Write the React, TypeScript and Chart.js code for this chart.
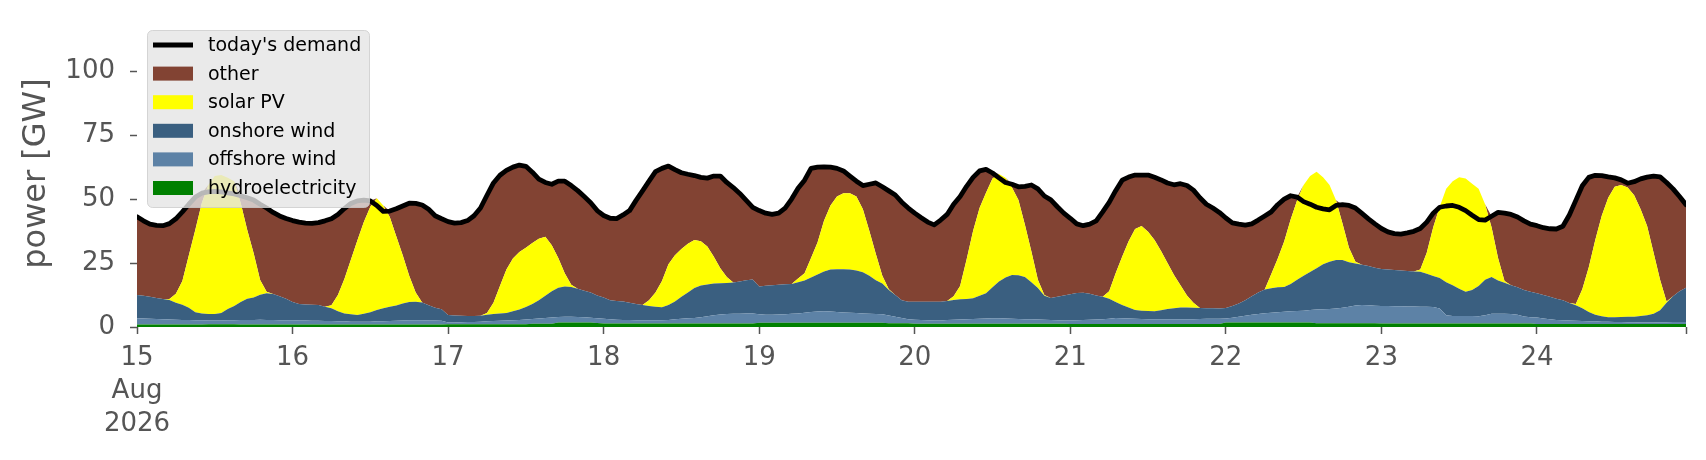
import React, { useEffect, useRef } from "react";
import { Chart, registerables } from "chart.js";

Chart.register(...registerables);

// ---- data: hourly values in GW, 15 Aug 2026 00:00 .. 24 Aug 2026 23:00 ----
const hydro = [
  1.0, 1.0, 1.0, 1.0, 1.0, 1.0, 1.0, 1.0, 1.0, 1.0, 1.0, 1.1, 1.1, 1.1, 1.1, 1.1, 1.0, 1.0, 1.0, 1.0, 1.0, 1.0, 1.0, 1.0,
  1.0, 1.0, 1.0, 1.0, 1.0, 1.0, 1.0, 1.0, 1.0, 1.0, 1.0, 1.0, 1.0, 1.0, 1.0, 1.0, 1.0, 1.0, 1.0, 1.0, 1.0, 1.0, 1.0, 1.0,
  1.1, 1.1, 1.1, 1.1, 1.1, 1.1, 1.1, 1.1, 1.1, 1.1, 1.1, 1.1, 1.1, 1.3, 1.3, 1.3, 1.3, 1.8, 1.8, 1.8, 1.8, 1.8, 1.8, 1.6,
  1.4, 1.4, 1.4, 1.4, 1.4, 1.4, 1.4, 1.4, 1.4, 1.4, 1.4, 1.4, 1.4, 1.4, 1.4, 1.4, 1.4, 1.4, 1.4, 1.4, 1.4, 1.4, 1.4, 1.4,
  1.7, 1.7, 1.7, 1.7, 1.7, 1.7, 1.7, 1.7, 1.7, 1.7, 1.7, 1.7, 1.7, 1.7, 1.7, 1.7, 1.7, 1.7, 1.7, 1.7, 1.5, 1.5, 1.5, 1.5,
  1.3, 1.3, 1.3, 1.3, 1.3, 1.3, 1.3, 1.3, 1.3, 1.3, 1.3, 1.3, 1.3, 1.3, 1.3, 1.3, 1.3, 1.3, 1.3, 1.3, 1.3, 1.3, 1.3, 1.3,
  1.2, 1.2, 1.2, 1.2, 1.2, 1.2, 1.2, 1.2, 1.2, 1.2, 1.2, 1.2, 1.2, 1.2, 1.2, 1.2, 1.2, 1.2, 1.2, 1.2, 1.2, 1.2, 1.2, 1.2,
  1.8, 1.8, 1.8, 1.8, 1.8, 1.8, 1.8, 1.8, 1.8, 1.8, 1.8, 1.8, 1.8, 1.8, 1.5, 1.5, 1.5, 1.5, 1.5, 1.5, 1.5, 1.5, 1.5, 1.5,
  1.4, 1.4, 1.4, 1.4, 1.4, 1.4, 1.4, 1.4, 1.4, 1.4, 1.4, 1.4, 1.4, 1.4, 1.4, 1.4, 1.4, 1.4, 1.4, 1.4, 1.4, 1.4, 1.4, 1.4,
  1.2, 1.2, 1.2, 1.2, 1.2, 1.2, 1.2, 1.2, 1.2, 1.2, 1.2, 1.2, 1.2, 1.2, 1.2, 1.2, 1.2, 1.2, 1.2, 1.2, 1.2, 1.2, 1.2, 1.2,
];

const offshoreWind = [
  2.4, 2.3, 2.2, 2.1, 2.0, 1.9, 1.8, 1.7, 1.7, 1.6, 1.6, 1.4, 1.4, 1.4, 1.5, 1.5, 1.7, 1.7, 1.7, 1.8, 1.7, 1.7, 1.6, 1.6,
  1.6, 1.5, 1.5, 1.4, 1.4, 1.3, 1.3, 1.2, 1.2, 1.1, 1.1, 1.1, 1.1, 1.2, 1.2, 1.3, 1.4, 1.5, 1.6, 1.6, 1.6, 1.5, 1.5, 1.4,
  0.7, 0.7, 0.8, 0.9, 0.9, 1.0, 1.1, 1.2, 1.3, 1.4, 1.5, 1.6, 1.8, 1.8, 2.0, 2.2, 2.4, 2.1, 2.2, 2.2, 2.1, 2.0, 1.8, 1.8,
  1.8, 1.6, 1.4, 1.3, 1.3, 1.2, 1.2, 1.2, 1.2, 1.2, 1.3, 1.6, 1.8, 2.0, 2.1, 2.4, 2.8, 3.2, 3.5, 3.7, 3.8, 3.8, 3.9, 3.9,
  3.3, 3.1, 3.1, 3.2, 3.3, 3.5, 3.6, 3.9, 4.2, 4.4, 4.5, 4.4, 4.2, 4.0, 3.9, 3.8, 3.6, 3.5, 3.4, 3.3, 3.0, 2.5, 2.0, 1.5,
  1.5, 1.4, 1.3, 1.2, 1.2, 1.4, 1.5, 1.6, 1.7, 1.8, 1.9, 2.0, 2.1, 2.1, 2.0, 1.9, 1.8, 1.7, 1.7, 1.6, 1.5, 1.4, 1.3, 1.2,
  1.3, 1.4, 1.5, 1.6, 1.7, 1.8, 2.0, 2.3, 2.2, 2.1, 2.0, 1.9, 1.8, 1.8, 1.8, 1.8, 1.8, 1.8, 1.8, 1.8, 1.9, 2.0, 2.0, 2.0,
  1.5, 1.8, 2.2, 2.6, 3.0, 3.3, 3.6, 3.8, 4.0, 4.2, 4.4, 4.5, 4.6, 4.8, 5.3, 5.4, 5.5, 5.7, 6.0, 6.4, 6.9, 7.1, 7.0, 6.8,
  6.8, 6.8, 6.7, 6.7, 6.6, 6.6, 6.5, 6.5, 6.4, 5.8, 3.2, 2.9, 2.9, 2.9, 2.9, 2.8, 3.2, 3.8, 3.8, 3.8, 3.7, 3.4, 2.7, 2.4,
  2.5, 2.1, 1.8, 1.5, 1.4, 1.3, 1.2, 1.1, 1.0, 1.0, 0.9, 0.9, 0.8, 0.8, 0.7, 0.7, 0.6, 0.6, 0.6, 0.7, 0.7, 0.8, 0.8, 0.8,
];

const onshoreWind = [
  9.1, 8.9, 8.6, 8.2, 7.9, 7.7, 6.7, 6.0, 4.8, 3.2, 2.7, 2.6, 2.6, 3.0, 4.4, 5.6, 7.1, 8.3, 8.8, 9.8, 10.5, 10.2, 9.4, 8.4,
  7.2, 6.5, 6.3, 6.3, 6.2, 5.6, 5.0, 4.0, 3.1, 2.9, 2.6, 3.1, 3.7, 4.4, 5.1, 5.6, 6.0, 6.7, 7.2, 7.3, 7.0, 6.0, 5.0, 4.5,
  2.9, 2.7, 2.5, 2.3, 2.3, 2.3, 2.6, 2.8, 2.9, 3.0, 3.6, 4.1, 4.9, 5.9, 7.2, 8.7, 10.3, 11.4, 11.8, 11.6, 11.1, 10.4, 9.9, 8.9,
  8.3, 7.5, 7.4, 7.3, 6.8, 6.4, 6.0, 5.6, 5.3, 5.1, 5.9, 7.0, 8.6, 10.1, 11.7, 12.4, 12.4, 12.4, 12.2, 12.1, 12.2, 12.6, 13.0, 13.3,
  10.8, 11.3, 11.5, 11.6, 11.7, 11.6, 12.2, 12.6, 13.4, 14.4, 15.5, 16.4, 16.7, 16.9, 16.9, 16.6, 16.1, 14.8, 13.2, 12.0, 10.0, 8.5, 7.0, 6.9,
  7.1, 7.2, 7.3, 7.4, 7.4, 7.5, 7.8, 7.9, 7.9, 8.1, 9.0, 9.9, 12.1, 14.4, 16.0, 17.1, 17.1, 16.5, 14.5, 12.3, 9.4, 8.6, 9.2, 9.8,
  10.3, 10.7, 10.7, 10.2, 9.4, 8.8, 7.8, 6.3, 5.2, 4.3, 3.4, 3.3, 3.3, 3.2, 3.5, 4.0, 4.3, 4.6, 4.6, 4.5, 4.3, 4.1, 4.1, 4.0,
  4.1, 4.6, 5.2, 6.1, 7.2, 8.4, 9.3, 9.5, 9.7, 9.6, 10.6, 12.2, 13.6, 14.9, 16.2, 17.6, 18.5, 19.0, 18.7, 17.4, 16.4, 15.7, 15.3, 14.9,
  14.5, 14.3, 14.2, 14.0, 13.9, 13.7, 13.7, 12.9, 12.1, 12.0, 12.9, 12.0, 10.7, 9.5, 10.2, 11.8, 13.9, 14.3, 13.0, 12.1, 11.2, 10.7, 10.4, 10.0,
  9.5, 9.2, 8.8, 8.3, 7.9, 6.9, 6.1, 5.0, 3.7, 2.6, 2.1, 1.7, 1.8, 1.9, 2.1, 2.1, 2.5, 2.8, 3.4, 4.6, 7.6, 10.0, 12.0, 13.3,
];

const solarPV = [
  0, 0, 0, 0, 0, 0.3, 3.5, 9.3, 20.5, 32.2, 43.2, 50.4, 53.9, 53.9, 51.3, 48.8, 38.7, 27.0, 17.3, 5.8, 0.6, 0, 0, 0,
  0, 0, 0, 0, 0, 0, 1.2, 6.3, 13.5, 21.3, 29.1, 35.8, 41.2, 43.7, 40.2, 35.1, 27.1, 18.8, 10.2, 3.6, 0, 0, 0, 0,
  0, 0, 0, 0, 0, 0, 0.7, 4.4, 10.7, 17.0, 20.6, 22.5, 23.2, 23.8, 24.0, 23.1, 18.0, 11.7, 5.2, 0.9, 0, 0, 0, 0,
  0, 0, 0, 0, 0, 0, 0, 2.3, 5.6, 10.3, 15.9, 18.0, 18.7, 19.0, 18.8, 17.3, 14.9, 10.5, 5.9, 2.3, 0, 0, 0, 0,
  0, 0, 0, 0, 0, 0, 1.5, 2.8, 7.7, 12.5, 19.8, 25.0, 28.4, 29.7, 29.8, 28.9, 24.6, 17.5, 10.2, 3.0, 0.3, 0, 0, 0,
  0, 0, 0, 0, 0, 0, 1.4, 5.2, 15.5, 26.3, 34.3, 39.3, 42.5, 42.0, 39.0, 34.2, 29.4, 20.5, 12.0, 3.3, 0.3, 0, 0, 0,
  0, 0, 0, 0, 0, 0, 3.0, 11.2, 18.9, 25.9, 31.7, 33.1, 30.9, 27.8, 23.2, 18.0, 13.0, 8.7, 4.7, 2.0, 0, 0, 0, 0,
  0, 0, 0, 0, 0, 0, 0, 5.5, 11.2, 17.8, 25.2, 31.0, 35.5, 37.5, 37.7, 34.0, 30.0, 23.3, 14.3, 5.7, 0.7, 0, 0, 0,
  0, 0, 0, 0, 0, 0, 0.9, 8.2, 19.1, 27.8, 36.5, 40.7, 43.5, 44.2, 41.5, 38.0, 29.5, 19.5, 8.8, 0.7, 0, 0, 0, 0,
  0, 0, 0, 0, 0, 0, 0.5, 7.5, 17.5, 29.2, 39.3, 46.7, 51.0, 51.6, 50.5, 47.5, 41.7, 34.9, 23.8, 12.0, 0.5, 0, 0, 0,
];

const other = [
  30.6, 29.3, 28.4, 28.4, 28.7, 29.5, 29.3, 27.0, 20.0, 12.8, 3.8, 0, 0, 0, 0, 0, 2.8, 12.5, 20.8, 29.6, 32.7, 31.9, 31.4, 31.4,
  31.8, 32.0, 31.8, 31.8, 32.2, 33.6, 33.8, 31.5, 27.5, 22.0, 15.5, 8.6, 2.3, 0, 0, 2.3, 10.7, 19.3, 28.4, 34.8, 38.1, 37.5, 36.0, 35.4,
  36.5, 36.1, 36.4, 37.3, 39.2, 42.1, 46.0, 46.8, 43.3, 38.7, 35.7, 34.0, 31.8, 27.7, 23.3, 21.2, 23.8, 30.0, 36.0, 38.8, 38.3, 36.8, 35.1, 33.2,
  32.1, 32.0, 32.2, 33.8, 36.0, 40.5, 44.6, 46.5, 47.2, 44.0, 38.4, 33.5, 29.8, 27.2, 25.2, 25.0, 26.7, 31.5, 36.0, 37.0, 37.1, 34.4, 31.2, 28.2,
  29.7, 28.4, 27.7, 28.0, 29.8, 33.2, 35.2, 36.4, 35.0, 29.5, 21.1, 15.0, 11.0, 8.7, 6.7, 6.0, 9.3, 18.3, 27.8, 34.8, 38.4, 39.1, 38.3, 36.6,
  34.6, 32.8, 31.1, 30.0, 31.9, 33.8, 36.0, 35.0, 28.6, 21.0, 14.5, 9.1, 2.2, 0, 0, 1.3, 5.2, 15.0, 26.0, 35.5, 38.7, 38.4, 35.2, 32.2,
  29.7, 27.0, 26.2, 27.2, 29.2, 33.2, 34.7, 32.3, 29.9, 25.1, 21.1, 19.9, 22.2, 24.5, 27.8, 31.3, 35.3, 39.7, 43.0, 44.0, 43.1, 40.7, 39.2, 37.6,
  35.2, 32.5, 31.0, 29.3, 28.3, 28.3, 28.7, 24.4, 21.3, 16.6, 9.3, 1.3, 0, 0, 0, 0, 0, 0, 7.3, 16.5, 21.0, 20.1, 18.5, 17.1,
  15.8, 14.7, 14.2, 14.2, 14.9, 15.7, 16.0, 12.0, 5.5, 0, 0, 0, 0, 0, 0, 0, 0, 4.3, 17.8, 26.5, 27.7, 27.5, 27.0, 26.4,
  26.4, 26.3, 26.6, 27.3, 28.9, 34.4, 40.5, 40.4, 35.1, 25.3, 15.7, 8.2, 3.5, 2.0, 1.7, 5.3, 11.9, 19.1, 30.0, 40.2, 46.5, 42.0, 37.0, 32.5,
];

const demand = [
  43.1, 41.5, 40.2, 39.7, 39.6, 40.4, 42.3, 45.0, 48.0, 50.8, 52.3, 52.8, 53.0, 52.8, 52.4, 52.0, 51.3, 50.5, 49.6, 48.0, 46.5, 44.8, 43.4, 42.4,
  41.6, 41.0, 40.6, 40.5, 40.8, 41.5, 42.3, 44.0, 46.3, 48.3, 49.3, 49.6, 49.3, 47.5, 45.2, 45.3, 46.2, 47.3, 48.4, 48.3, 47.7, 46.0, 43.5, 42.3,
  41.2, 40.6, 40.8, 41.6, 43.5, 46.5, 51.5, 56.3, 59.3, 61.2, 62.5, 63.3, 62.8, 60.5, 57.8, 56.5, 55.8, 57.0, 57.0, 55.3, 53.3, 51.0, 48.6, 45.5,
  43.6, 42.5, 42.4, 43.8, 45.5, 49.5, 53.2, 57.0, 60.7, 62.0, 62.9, 61.5, 60.3, 59.7, 59.2, 58.5, 58.2, 59.0, 59.0, 56.5, 54.5, 52.2, 49.5, 46.8,
  45.5, 44.5, 44.0, 44.5, 46.5, 50.0, 54.2, 57.4, 62.0, 62.5, 62.6, 62.5, 62.0, 61.0, 59.0, 57.0, 55.3, 55.8, 56.3, 54.8, 53.2, 51.6, 48.8, 46.5,
  44.5, 42.7, 41.0, 39.9, 41.8, 44.0, 48.0, 51.0, 55.0, 58.5, 61.0, 61.6, 60.2, 58.3, 56.5, 55.8, 54.8, 55.0, 55.5, 54.0, 51.2, 49.7, 47.0, 44.5,
  42.5, 40.3, 39.6, 40.2, 41.5, 45.0, 48.7, 53.3, 57.4, 58.6, 59.4, 59.4, 59.4, 58.5, 57.5, 56.3, 55.6, 56.0, 55.3, 53.5, 50.5, 48.0, 46.5, 44.8,
  42.6, 40.7, 40.2, 39.8, 40.3, 41.8, 43.4, 45.0, 47.8, 50.0, 51.3, 50.8, 49.0, 48.0, 46.8, 46.2, 45.8, 47.5, 47.8, 47.5, 46.5, 44.4, 42.3, 40.3,
  38.5, 37.2, 36.5, 36.3, 36.8, 37.4, 38.5, 41.0, 44.5, 46.8, 47.3, 47.5, 46.8, 45.5, 43.7, 42.0, 41.8, 43.3, 44.8, 44.5, 44.0, 43.0, 41.5, 40.2,
  39.6, 38.8, 38.4, 38.3, 39.4, 43.8, 49.5, 55.2, 58.5, 59.3, 59.2, 58.7, 58.3, 57.5, 56.2, 56.8, 57.9, 58.6, 59.0, 58.7, 56.5, 54.0, 51.0, 47.8,
];

// x positions in hours since 15 Aug 2026 00:00
const dayTickHours = [0, 24, 48, 72, 96, 120, 144, 168, 192, 216];
const dayTickLabels: (string | string[])[] = [["15", "Aug", "2026"], "16", "17", "18", "19", "20", "21", "22", "23", "24"];
const lastHour = 239;
const yTickValues = [0, 25, 50, 75, 100];
const yMax = 120;

const FONT = "'DejaVu Sans', 'Liberation Sans', sans-serif";
const TICK_COLOR = "#555555";

const COLORS = {
  demand: "#000000",
  other: "#824333",
  solar: "#ffff00",
  onshore: "#3a5f80",
  offshore: "#5d82a6",
  hydro: "#008000",
};

const legendOrder = [5, 4, 3, 2, 1, 0];

const mplLegend = {
  id: "mplLegend",
  afterDraw(chart: any) {
    const { ctx, chartArea } = chart;
    const x0 = chartArea.left + 10;
    const y0 = chartArea.top + 10;
    const w = 222;
    const h = 177;
    ctx.save();
    ctx.globalAlpha = 0.8;
    ctx.beginPath();
    if (ctx.roundRect) ctx.roundRect(x0 + 0.5, y0 + 0.5, w, h, 5);
    else ctx.rect(x0 + 0.5, y0 + 0.5, w, h);
    ctx.fillStyle = "#e5e5e5";
    ctx.fill();
    ctx.lineWidth = 1;
    ctx.strokeStyle = "#cccccc";
    ctx.stroke();
    ctx.globalAlpha = 1;
    ctx.font = `19px ${FONT}`;
    ctx.textBaseline = "middle";
    ctx.textAlign = "left";
    const rowH = 28.6;
    legendOrder.forEach((di, i) => {
      const ds = chart.data.datasets[di];
      const cy = y0 + 15 + i * rowH;
      const hx = x0 + 6;
      if (ds.fill === false) {
        ctx.strokeStyle = ds.borderColor;
        ctx.lineWidth = 4.8;
        ctx.lineCap = "butt";
        ctx.beginPath();
        ctx.moveTo(hx, cy);
        ctx.lineTo(hx + 40, cy);
        ctx.stroke();
      } else {
        ctx.fillStyle = ds.backgroundColor;
        ctx.fillRect(hx, cy - 7, 40, 14);
      }
      ctx.fillStyle = "#000000";
      ctx.fillText(ds.label, x0 + 61, cy + 1);
    });
    ctx.restore();
  },
};

export default function App() {
  const canvasRef = useRef<HTMLCanvasElement | null>(null);

  useEffect(() => {
    if (!canvasRef.current) return;
    const hours = demand.map((_, i) => i);
    const pts = (arr: number[]) => arr.map((v, i) => ({ x: hours[i], y: v }));
    const area = (label: string, arr: number[], color: string, fill: any) => ({
      label,
      data: pts(arr),
      backgroundColor: color,
      borderColor: color,
      borderWidth: 0,
      pointRadius: 0,
      fill,
      stack: "generation",
      order: 1,
    });

    const chart = new Chart(canvasRef.current, {
      type: "line",
      data: {
        datasets: [
          area("hydroelectricity", hydro, COLORS.hydro, "origin"),
          area("offshore wind", offshoreWind, COLORS.offshore, "-1"),
          area("onshore wind", onshoreWind, COLORS.onshore, "-1"),
          area("solar PV", solarPV, COLORS.solar, "-1"),
          area("other", other, COLORS.other, "-1"),
          {
            label: "today's demand",
            data: pts(demand),
            borderColor: COLORS.demand,
            backgroundColor: COLORS.demand,
            borderWidth: 4.8,
            borderJoinStyle: "round",
            borderCapStyle: "round",
            pointRadius: 0,
            fill: false,
            stack: "demand",
            order: 0,
          } as any,
        ],
      },
      options: {
        animation: false,
        responsive: false,
        devicePixelRatio: 1,
        events: [],
        layout: { padding: { top: 20, right: 20, bottom: 0, left: 0 } },
        elements: { line: { tension: 0 }, point: { radius: 0 } },
        plugins: {
          legend: { display: false },
          tooltip: { enabled: false },
        },
        scales: {
          x: {
            type: "linear",
            min: 0,
            max: lastHour,
            grid: {
              drawOnChartArea: false,
              drawTicks: true,
              tickLength: 7,
              tickColor: TICK_COLOR,
              tickWidth: 1.5,
            },
            border: { display: false },
            ticks: {
              autoSkip: false,
              maxRotation: 0,
              minRotation: 0,
              padding: 8,
              color: TICK_COLOR,
              font: { family: FONT, size: 26, lineHeight: 1.27 },
              callback: (v: any) => {
                const i = dayTickHours.indexOf(Number(v));
                return i >= 0 ? dayTickLabels[i] : "";
              },
            },
            afterBuildTicks: (s: any) => {
              s.ticks = [...dayTickHours, lastHour].map((v) => ({ value: v }));
            },
            afterFit: (s: any) => {
              s.height = 133;
            },
          },
          y: {
            type: "linear",
            stacked: true,
            min: 0,
            max: yMax,
            grid: {
              drawOnChartArea: false,
              drawTicks: true,
              tickLength: 7,
              tickColor: TICK_COLOR,
              tickWidth: 1.5,
            },
            border: { display: false },
            ticks: {
              padding: 15,
              color: TICK_COLOR,
              // small lineHeight keeps the axis from reserving extra room above the plot
              font: { family: FONT, size: 26, lineHeight: 0.3 },
            },
            afterBuildTicks: (s: any) => {
              s.ticks = yTickValues.map((v) => ({ value: v }));
            },
            afterFit: (s: any) => {
              s.width = 137;
            },
            title: {
              display: true,
              text: "power [GW]",
              color: TICK_COLOR,
              font: { family: FONT, size: 32 },
              padding: { top: 17, bottom: 0 },
            },
          },
        },
      } as any,
      plugins: [mplLegend],
    });

    return () => chart.destroy();
  }, []);

  return (
    <div style={{ position: "absolute", left: 0, top: 0, width: 1706, height: 460, background: "#ffffff" }}>
      <canvas ref={canvasRef} width={1706} height={460} style={{ display: "block" }} />
    </div>
  );
}
